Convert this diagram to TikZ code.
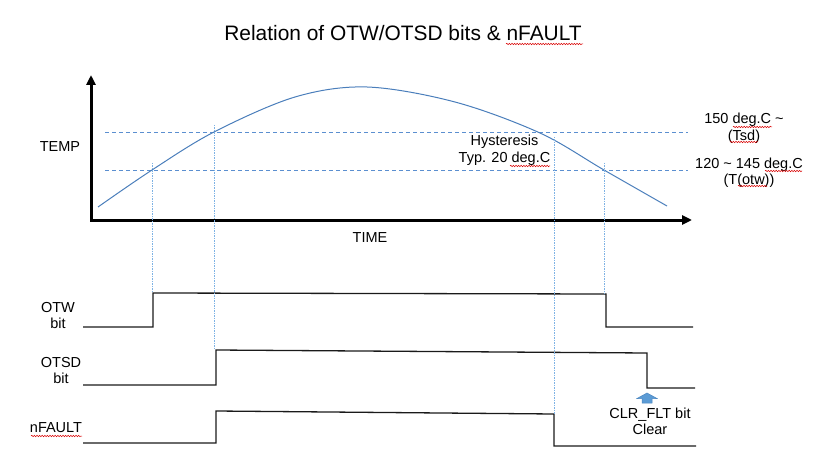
\documentclass[tikz,border=0pt]{standalone}
\usepackage{fontspec}
\setmainfont{Liberation Sans}
\usetikzlibrary{arrows.meta,decorations.pathmorphing}
\definecolor{curveblue}{HTML}{4A7EBB}
\definecolor{dashblue}{HTML}{5B8FD0}
\definecolor{guideblue}{HTML}{7EB2E4}
\definecolor{arrowfill}{HTML}{5B9BD5}
\definecolor{arrowedge}{HTML}{4A86C0}
\definecolor{sigcol}{HTML}{1A1A1A}
\begin{document}
\begin{tikzpicture}[x=1pt,y=-1pt,
  lbl/.style={font=\fontsize{14.5}{16}\selectfont, align=center, inner sep=0pt},
  ttl/.style={font=\fontsize{20.9}{24}\selectfont, inner sep=0pt},
  axisline/.style={line width=3pt, line join=miter, {Triangle[length=10pt,width=9pt]}-{Triangle[length=10pt,width=9pt]}},
  levelline/.style={dashblue, line width=0.9pt, dash pattern=on 4pt off 3pt},
  guideline/.style={guideblue, line width=0.8pt, dash pattern=on 1.5pt off 1pt},
  signal/.style={sigcol, line width=1.3pt, line join=miter},
  squig/.style={red!85!black, line width=0.5pt, decorate, decoration={snake, amplitude=0.7pt, segment length=2.6pt}},
  blockarrow/.style={fill=arrowfill, draw=arrowedge, line width=0.5pt}
]
\useasboundingbox (0,0) rectangle (832,465);

% title
\node[ttl] (title) at (403,33) {Relation of OTW/OTSD bits \& nFAULT};
\draw[squig] (506,44) -- (583,44);

% axes
\coordinate (ytop) at (91,75);
\coordinate (origin) at (91,220);
\coordinate (xend) at (692,220);
\draw[axisline] (ytop) -- (origin) -- (xend);
\node[lbl] (temp) at (60,147) {TEMP};
\node[lbl] (time) at (370,238) {TIME};

% temperature levels
\coordinate (tsdL) at (105,132);
\coordinate (tsdR) at (688,132);
\coordinate (otwL) at (105,170);
\coordinate (otwR) at (688,170);
\draw[levelline] (tsdL) -- (tsdR);
\draw[levelline] (otwL) -- (otwR);

% temperature curve
\draw[curveblue, line width=1pt] plot[smooth, tension=0.55] coordinates {(98,207) (152,170) (214,132) (295,97) (367,87) (455,102) (540,133) (604,170) (667,206)};

% level labels
\node[lbl, font=\fontsize{14.5}{17}\selectfont] (tsdlbl) at (744,128) {150 deg.C \textasciitilde\\(Tsd)};
\node[lbl, font=\fontsize{14.5}{16}\selectfont] (otwlbl) at (749,172.5) {120 \textasciitilde{} 145 deg.C\\(T(otw))};
\node[lbl, font=\fontsize{14.5}{17}\selectfont] (hyst) at (504.5,150.5) {Hysteresis\\Typ. 20 deg.C};
\draw[squig] (733,127) -- (772,127);
\draw[squig] (730,142) -- (758,142);
\draw[squig] (765,171) -- (802,171);
\draw[squig] (738,186) -- (767,186);
\draw[squig] (510,166) -- (550,166);

% signals
\coordinate (otwUp) at (153,293);
\coordinate (otwDn) at (606,294);
\coordinate (otsdUp) at (216,350);
\coordinate (otsdDn) at (647,353);
\coordinate (nfUp) at (216,411);
\coordinate (nfDn) at (554,414);
\draw[signal] (83,327) -- (153,327) -- (otwUp) -- (otwDn) -- (606,327) -- (693,327);
\draw[signal] (83,385) -- (216,385) -- (otsdUp) -- (otsdDn) -- (647,388) -- (695,388);
\draw[signal] (83,443) -- (216,443) -- (nfUp) -- (nfDn) -- (554,446) -- (696,446);

\node[lbl] (otwsig) at (58,315.5) {OTW\\bit};
\node[lbl] (otsdsig) at (61,370.5) {OTSD\\bit};
\node[lbl] (nfsig) at (56,428) {nFAULT};
\draw[squig] (31,436) -- (82,436);

% guide lines
\coordinate (g1) at (152,163);
\coordinate (g2) at (214,125);
\coordinate (g3) at (554,137);
\coordinate (g4) at (604,163);
\draw[guideline] (g1) -- (152,293);
\draw[guideline] (g2) -- (214,350);
\draw[guideline] (g3) -- (554,414);
\draw[guideline] (g4) -- (604,294);

% CLR_FLT arrow
\draw[blockarrow] (647,393) -- (657,398.5) -- (652,398.5) -- (652,403) -- (642,403) -- (642,398.5) -- (637,398.5) -- cycle;
\node[lbl] (clr) at (650,421) {CLR\_FLT bit\\Clear};
\end{tikzpicture}
\end{document}
